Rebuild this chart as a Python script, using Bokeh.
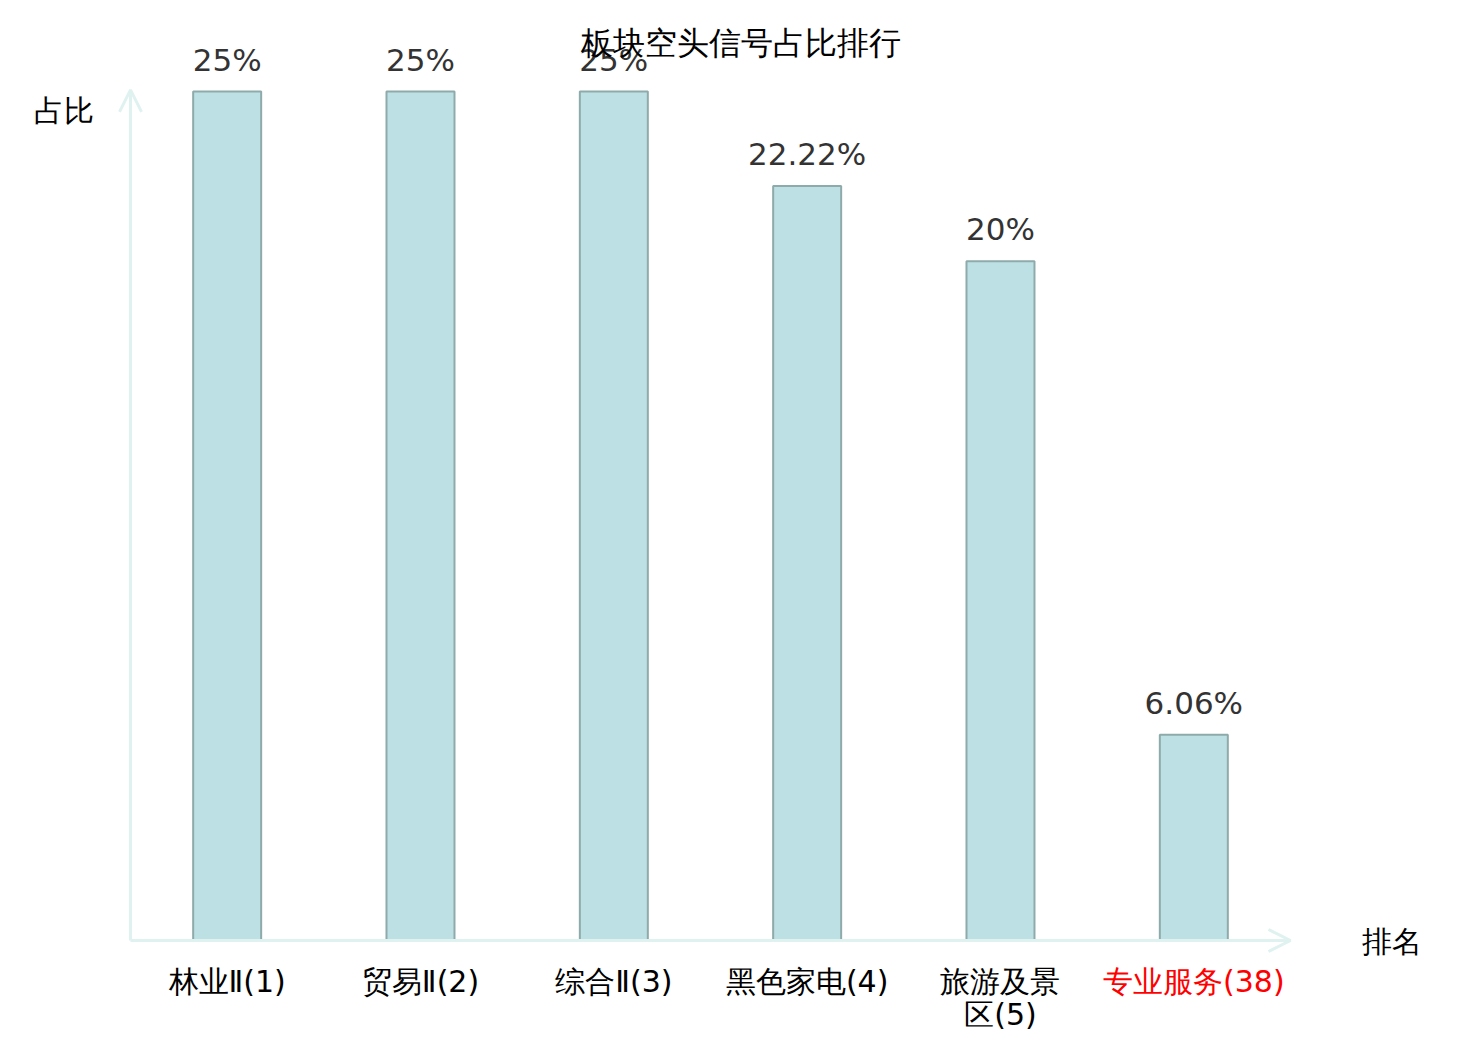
from bokeh.plotting import figure
from bokeh.models import Range1d, ColumnDataSource, Arrow, OpenHead
from bokeh.core.properties import value
from bokeh.embed import file_html
from bokeh.resources import INLINE
import numpy as np

title_text = "板块空头信号占比排行"
categories = ["林业Ⅱ(1)", "贸易Ⅱ(2)", "综合Ⅱ(3)", "黑色家电(4)", "旅游及景\n区(5)", "专业服务(38)"]
values = [25, 25, 25, 22.22, 20, 6.06]
value_labels = ["25%", "25%", "25%", "22.22%", "20%", "6.06%"]
label_colors = ["#000000", "#000000", "#000000", "#000000", "#000000", "#ff0000"]
y_axis_name = "占比"
x_axis_name = "排名"

W, H = 1464, 1032
unit_x = 193.33   # px per category
unit_y = 33.96    # px per percent
left_px = 130
base_px = 940

xr = Range1d(-left_px / unit_x, (W - left_px) / unit_x)
yr = Range1d(-(H - base_px) / unit_y, base_px / unit_y)

p = figure(width=W, height=H, x_range=xr, y_range=yr, output_backend="svg",
           toolbar_location=None, x_axis_location=None, y_axis_location=None,
           min_border=0, outline_line_color=None)
p.grid.visible = False

xs = np.arange(len(categories)) + 0.5
src = ColumnDataSource(dict(x=xs, top=values, lab=value_labels, cat=categories, col=label_colors))

font = value("DejaVu Sans")

# axes with arrows
axis_col = "#dff2ef"
p.add_layout(Arrow(end=OpenHead(size=22, line_color=axis_col, line_width=3),
                   x_start=0, y_start=0, x_end=len(categories), y_end=0,
                   line_color=axis_col, line_width=3))
p.add_layout(Arrow(end=OpenHead(size=22, line_color=axis_col, line_width=3),
                   x_start=0, y_start=0, x_end=0, y_end=25.05,
                   line_color=axis_col, line_width=3))

p.vbar(x="x", top="top", bottom=0, width=68 / unit_x, source=src,
       fill_color="#bce0e3", line_color="#8eaaaa", line_width=2)

p.text(x="x", y="top", text="lab", source=src, text_align="center",
       text_baseline="bottom", y_offset=-14, text_font=font,
       text_font_size="31px", text_color="#333333")

p.text(x="x", y=-(963 - base_px) / unit_y, text="cat", source=src, text_align="center",
       text_baseline="top", text_font=font, text_font_size="30px",
       text_color="col", text_line_height=0.95)

p.text(x=[(740 - left_px) / unit_x], y=[(base_px - 42) / unit_y], text=[title_text],
       text_align="center", text_baseline="middle", text_font=font,
       text_font_size="32px", text_color="#000000")

p.text(x=[(63 - left_px) / unit_x], y=[(base_px - 110) / unit_y], text=[y_axis_name],
       text_align="center", text_baseline="middle", text_font=font,
       text_font_size="30px", text_color="#000000")

p.text(x=[(1391 - left_px) / unit_x], y=[(base_px - 941) / unit_y], text=[x_axis_name],
       text_align="center", text_baseline="middle", text_font=font,
       text_font_size="30px", text_color="#000000")

open("out.html", "w").write(file_html(p, INLINE))
